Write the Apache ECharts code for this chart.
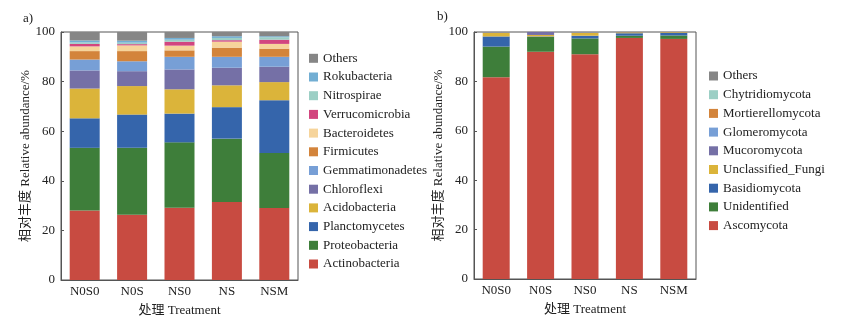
<!DOCTYPE html>
<html><head><meta charset="utf-8">
<script src="https://cdn.jsdelivr.net/npm/echarts@6/dist/echarts.min.js"></script>
<style>html,body{margin:0;padding:0;background:#fff}#c{width:847px;height:325px}</style>
</head><body><div id="c"></div>
<script>
// ---------- data ----------
const categories = ['N0S0', 'N0S', 'NS0', 'NS', 'NSM'];

// Panel a) bacteria (bottom -> top of stack)
const bacteriaNames = ['Actinobacteria','Proteobacteria','Planctomycetes','Acidobacteria','Chloroflexi','Gemmatimonadetes','Firmicutes','Bacteroidetes','Verrucomicrobia','Nitrospirae','Rokubacteria','Others'];
const actinobacteria   = [28.0, 26.3, 29.1, 31.5, 29.0];
const proteobacteria   = [25.3, 27.0, 26.4, 25.5, 22.2];
const planctomycetes   = [11.9, 13.4, 11.6, 12.7, 21.3];
const acidobacteria    = [12.0, 11.5,  9.8,  8.8,  7.3];
const chloroflexi      = [ 7.3,  6.0,  8.0,  7.1,  6.2];
const gemmatimonadetes = [ 4.4,  4.0,  5.1,  4.4,  4.0];
const firmicutes       = [ 3.4,  4.1,  2.6,  3.7,  3.3];
const bacteroidetes    = [ 1.9,  2.3,  1.9,  2.4,  1.9];
const verrucomicrobia  = [ 1.0,  0.5,  1.6,  0.6,  1.7];
const nitrospirae      = [ 0.6,  0.6,  0.8,  0.9,  1.0];
const rokubacteria     = [ 0.8,  0.8,  0.7,  0.7,  0.4];
const bacteriaOthers   = [ 3.4,  3.5,  2.4,  1.7,  1.7];
const bacteriaValues = [actinobacteria, proteobacteria, planctomycetes, acidobacteria, chloroflexi, gemmatimonadetes, firmicutes, bacteroidetes, verrucomicrobia, nitrospirae, rokubacteria, bacteriaOthers];
const bacteriaColors = ['#c84b41','#3e7e3a','#3565ab','#dbb43a','#7570a6','#779fd6','#d3843b','#f6d49b','#d2467f','#9ccfc5','#72aed3','#868686'];

// Panel b) fungi (bottom -> top of stack)
const fungiNames = ['Ascomycota','Unidentified','Basidiomycota','Unclassified_Fungi','Mucoromycota','Glomeromycota','Mortierellomycota','Chytridiomycota','Others'];
const ascomycota        = [81.7, 92.0, 91.0, 97.6, 97.2];
const unidentified      = [12.4,  6.0,  6.4,  0.9,  1.4];
const basidiomycota     = [ 4.1,  0.2,  1.1,  1.0,  1.0];
const unclassifiedFungi = [ 1.4,  0.6,  1.1,  0.3,  0.3];
const mucoromycota      = [ 0.1,  1.2,  0.1, 0.05, 0.05];
const glomeromycota     = [0.05,  0.0,  0.1,  0.0,  0.0];
const mortierellomycota = [0.05,  0.0, 0.05, 0.05,  0.0];
const chytridiomycota   = [0.05,  0.0, 0.05,  0.0,  0.0];
const fungiOthers       = [0.15,  0.0,  0.1,  0.1, 0.05];
const fungiValues = [ascomycota, unidentified, basidiomycota, unclassifiedFungi, mucoromycota, glomeromycota, mortierellomycota, chytridiomycota, fungiOthers];
const fungiColors = ['#c84b41','#3e7e3a','#3565ab','#dbb43a','#7570a6','#779fd6','#d3843b','#9ccfc5','#868686'];

const yTicks = [0, 20, 40, 60, 80, 100];

// ---------- chart ----------
const FONT = '"Liberation Serif", "Times New Roman", "Noto Sans CJK SC", serif';
const TXT = '#222';
const LINE = '#555';

function xAxis(gi) {
  return {
    type: 'category', gridIndex: gi, data: categories,
    axisLine: {lineStyle: {color: LINE}}, axisTick: {show: false},
    axisLabel: {color: TXT, fontFamily: FONT, fontSize: 13, margin: 5},
    name: '处理 Treatment', nameLocation: 'middle', nameGap: 24,
    nameTextStyle: {color: TXT, fontFamily: FONT, fontSize: 13}
  };
}
function yAxis(gi) {
  return {
    type: 'value', gridIndex: gi, min: yTicks[0], max: yTicks[yTicks.length - 1], interval: 20,
    axisLine: {show: true, lineStyle: {color: LINE}},
    axisTick: {show: true, inside: true, length: 3, lineStyle: {color: LINE}},
    splitLine: {show: false},
    axisLabel: {color: TXT, fontFamily: FONT, fontSize: 13, margin: 6},
    name: '相对丰度 Relative abundance/%', nameLocation: 'middle', nameGap: 27,
    nameTextStyle: {color: TXT, fontFamily: FONT, fontSize: 13}
  };
}

const series = [];
bacteriaNames.forEach((n, i) => series.push({
  name: n, type: 'bar', stack: 'a', xAxisIndex: 0, yAxisIndex: 0, barWidth: 30,
  itemStyle: {color: bacteriaColors[i]}, data: bacteriaValues[i]
}));
fungiNames.forEach((n, i) => series.push({
  name: n, type: 'bar', stack: 'b', xAxisIndex: 1, yAxisIndex: 1, barWidth: 27,
  itemStyle: {color: fungiColors[i]}, data: fungiValues[i]
}));

const legendBase = {
  orient: 'vertical', icon: 'rect', itemWidth: 9, itemHeight: 9, itemGap: 5.7,
  textStyle: {color: TXT, fontFamily: FONT, fontSize: 13, lineHeight: 13},
  selectedMode: false
};

const chart = echarts.init(document.getElementById('c'), null, {renderer: 'canvas'});
chart.setOption({
  animation: false,
  backgroundColor: '#fff',
  grid: [
    {left: 61, top: 32, width: 237, height: 248, show: true, borderColor: LINE, borderWidth: 1},
    {left: 474, top: 32, width: 222, height: 247, show: true, borderColor: LINE, borderWidth: 1}
  ],
  xAxis: [xAxis(0), xAxis(1)],
  yAxis: [yAxis(0), yAxis(1)],
  legend: [
    Object.assign({}, legendBase, {left: 304, top: 46.8, data: bacteriaNames.slice().reverse()}),
    Object.assign({}, legendBase, {left: 704, top: 64.5, data: fungiNames.slice().reverse()})
  ],
  graphic: [
    {type: 'text', left: 23, top: 12, style: {text: 'a)', fill: TXT, font: '13px ' + FONT}},
    {type: 'text', left: 437, top: 10, style: {text: 'b)', fill: TXT, font: '13px ' + FONT}}
  ],
  series: series
});
</script>
</body></html>
